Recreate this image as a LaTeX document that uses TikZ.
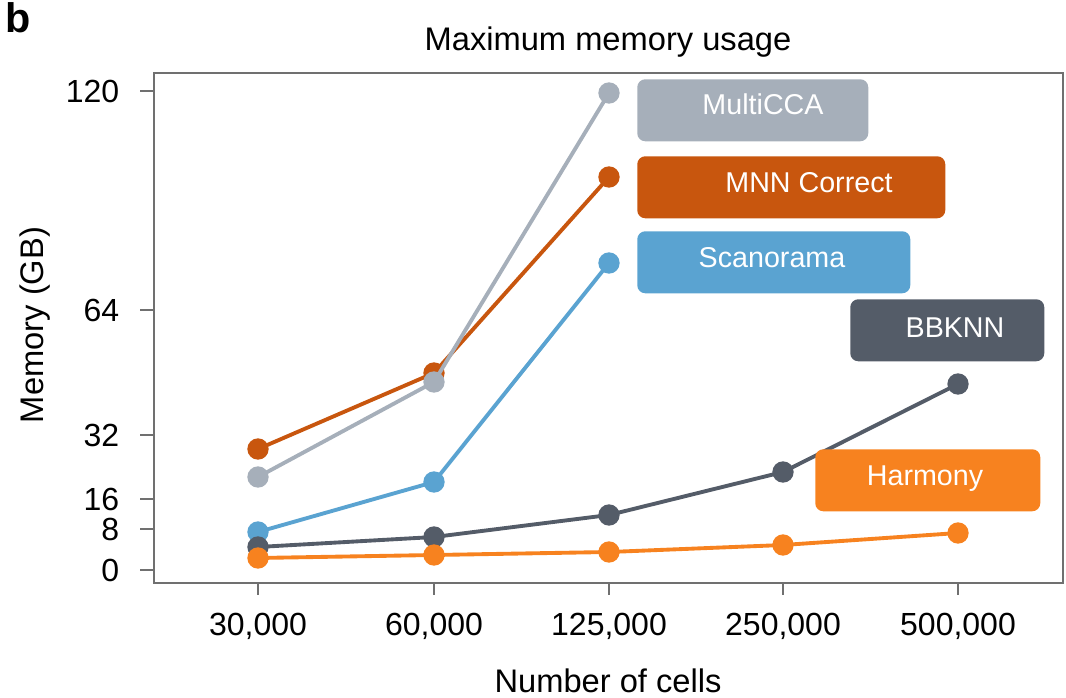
\documentclass[tikz,border=0pt]{standalone}
\usepackage{fontspec}
\setmainfont{Liberation Sans}
\definecolor{mcca}{HTML}{A6AFBA}
\definecolor{mnn}{HTML}{C8560E}
\definecolor{scan}{HTML}{5AA3D1}
\definecolor{bbk}{HTML}{545C68}
\definecolor{harm}{HTML}{F7821F}
\definecolor{axisgray}{HTML}{707070}

\begin{document}
\begin{tikzpicture}[x=0.75pt,y=-0.75pt,
  series/.style={line width=2.9pt, line join=round, draw=#1},
  dot/.style={circle, fill=#1, inner sep=0pt, minimum size=16pt},
  tag/.style={fill=#1, rounded corners=6pt, inner sep=0pt, anchor=north west, minimum height=46.5pt},
  tagtext/.style={text=white, anchor=base, font=\fontsize{21.5}{24}\selectfont},
  ylab/.style={anchor=east, font=\fontsize{24}{28}\selectfont},
  xlab/.style={anchor=base, font=\fontsize{24}{28}\selectfont},
  axlab/.style={font=\fontsize{24.5}{28}\selectfont},
  frame/.style={draw=axisgray, line width=1.5pt},
  tick/.style={draw=axisgray, line width=1.5pt}]

\useasboundingbox (0,0) rectangle (1066,698);

% panel letter and title
\node[anchor=base west, font=\bfseries\fontsize{31}{34}\selectfont] (panel) at (1,33) {b};
\node[axlab, anchor=base] (title) at (608,51) {Maximum memory usage};

% plot frame
\node[frame, anchor=north west, minimum width=681.75pt, minimum height=382.5pt, inner sep=0pt] (plot) at (153,72) {};

% y axis ticks and labels
\foreach \v/\y in {120/91, 64/310, 32/435, 16/499, 8/529, 0/570}{
  \coordinate (yt\v) at (140,\y);
  \draw[tick] (yt\v) -- (153,\y);
  \node[ylab] (yl\v) at (124,\y) {\v};
}
\node[axlab, rotate=90] (ylabel) at (35,325) {Memory (GB)};

% x axis ticks and labels
\foreach \n/\x/\t in {a/258/30{,}000, b/434/60{,}000, c/609/125{,}000, d/783/250{,}000, e/958/500{,}000}{
  \coordinate (xt\n) at (\x,582);
  \draw[tick] (xt\n) -- (\x,595);
  \node[xlab] (xl\n) at (\x,635) {\t};
}
\node[axlab, anchor=base] (xlabel) at (608,692) {Number of cells};

% data points
\coordinate (mn1) at (258,449); \coordinate (mn2) at (434,373); \coordinate (mn3) at (609,177);
\coordinate (mc1) at (258,477); \coordinate (mc2) at (434,382); \coordinate (mc3) at (609,93);
\coordinate (sc1) at (258,532); \coordinate (sc2) at (434,482); \coordinate (sc3) at (609,263);
\coordinate (bb1) at (258,547); \coordinate (bb2) at (434,537); \coordinate (bb3) at (609,515);
\coordinate (bb4) at (783,472); \coordinate (bb5) at (958,384);
\coordinate (hm1) at (258,558); \coordinate (hm2) at (434,555); \coordinate (hm3) at (609,552);
\coordinate (hm4) at (783,545); \coordinate (hm5) at (958,533);

% MNN Correct
\draw[series=mnn] (mn1) -- (mn2) -- (mn3);
\foreach \i in {1,2,3} \node[dot=mnn] (dmn\i) at (mn\i) {};
% MultiCCA
\draw[series=mcca] (mc1) -- (mc2) -- (mc3);
\foreach \i in {1,2,3} \node[dot=mcca] (dmc\i) at (mc\i) {};
% Scanorama
\draw[series=scan] (sc1) -- (sc2) -- (sc3);
\foreach \i in {1,2,3} \node[dot=scan] (dsc\i) at (sc\i) {};
% BBKNN
\draw[series=bbk] (bb1) -- (bb2) -- (bb3) -- (bb4) -- (bb5);
\foreach \i in {1,...,5} \node[dot=bbk] (dbb\i) at (bb\i) {};
% Harmony
\draw[series=harm] (hm1) -- (hm2) -- (hm3) -- (hm4) -- (hm5);
\foreach \i in {1,...,5} \node[dot=harm] (dhm\i) at (hm\i) {};

% legend tags
\node[tag=mcca, minimum width=173.25pt] (tagmc) at (637,79) {};
\node[tagtext] (txmc) at (763,115) {MultiCCA};
\node[tag=mnn, minimum width=231pt] (tagmn) at (637,156) {};
\node[tagtext] (txmn) at (809,193) {MNN Correct};
\node[tag=scan, minimum width=204.75pt] (tagsc) at (637,231) {};
\node[tagtext] (txsc) at (772,268) {Scanorama};
\node[tag=bbk, minimum width=145.5pt] (tagbb) at (850,299) {};
\node[tagtext] (txbb) at (955,337) {BBKNN};
\node[tag=harm, minimum width=168.75pt] (taghm) at (815,449) {};
\node[tagtext] (txhm) at (925,485) {Harmony};
\end{tikzpicture}
\end{document}
